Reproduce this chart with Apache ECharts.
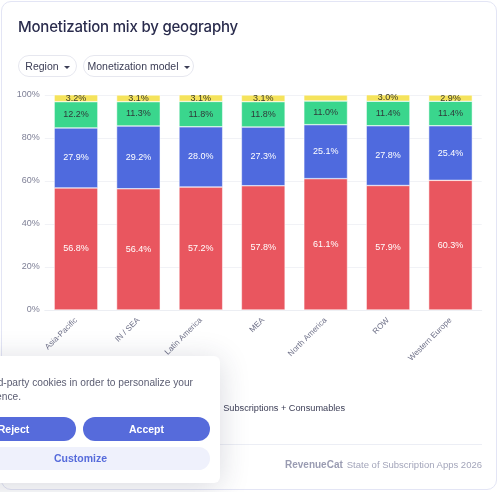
<!DOCTYPE html>
<html><head><meta charset="utf-8">
<script src="https://cdn.jsdelivr.net/npm/echarts@6/dist/echarts.min.js"></script>
<style>
html,body{margin:0;padding:0;background:#fff;width:500px;height:492px;overflow:hidden;font-family:"Liberation Sans",Arial,sans-serif;}
#card{position:absolute;left:1px;top:1px;width:494px;height:487px;border:1px solid #e3e5f5;border-radius:10px;background:#fff;}
#chart{position:absolute;left:0;top:0;width:500px;height:492px;}
#title{position:absolute;left:18px;top:17px;font-family:Inter,sans-serif;font-size:15px;font-weight:500;color:#2a2c4d;letter-spacing:-0.2px;white-space:nowrap;}
.pill{position:absolute;top:55px;height:20px;border:1px solid #e6e7ef;border-radius:11px;font-size:10.5px;color:#3b3d55;line-height:20px;box-sizing:content-box;text-align:center;}
.pill:after{content:"";display:inline-block;margin-left:5px;vertical-align:middle;border-left:3px solid transparent;border-right:3px solid transparent;border-top:3px solid #3b3d55;}
#sep{position:absolute;left:18px;top:444px;width:464px;height:1px;background:#eceef5;}
#foot{position:absolute;right:18px;top:459px;font-size:9.5px;color:#a3a5ba;white-space:nowrap;}
#foot b{font-weight:700;color:#9a9cb2;margin-right:4px;font-size:10px;}
#banner{position:absolute;left:-59px;top:356px;width:279px;height:127px;background:#fff;border-radius:6px;box-shadow:0 4px 30px rgba(40,44,80,0.18);z-index:10;}
.bl{position:absolute;white-space:nowrap;font-size:10.2px;color:#5b5d72;}
.btn{position:absolute;height:24px;border-radius:12px;font-size:10.5px;font-weight:700;text-align:center;line-height:24px;}
</style></head><body>
<div id="card"></div>
<div id="chart"></div>
<div id="title">Monetization mix by geography</div>
<div class="pill" style="left:18px;width:57px;">Region</div>
<div class="pill" style="left:83px;width:109px;">Monetization model</div>
<div id="sep"></div>
<div id="foot"><b>RevenueCat</b>State of Subscription Apps 2026</div>
<div id="banner">
  <div class="bl" style="right:27px;top:21px;">We use first and third-party cookies in order to personalize your</div>
  <div class="bl" style="right:199px;top:35px;">experience.</div>
  <div class="btn" style="left:10px;width:125px;top:61px;background:#566bdb;color:#fff;">Reject</div>
  <div class="btn" style="left:142px;width:127px;top:61px;background:#566bdb;color:#fff;">Accept</div>
  <div class="btn" style="left:10px;width:259px;top:91px;height:23px;line-height:23px;background:#eff1fc;color:#566bdb;">Customize</div>
</div>
<script>
const categories = ["Asia-Pacific","IN / SEA","Latin America","MEA","North America","ROW","Western Europe"];
const seriesNames = ["Subscriptions only","Hybrid","Other","Subscriptions + Consumables"];
const redValues = [56.8,56.4,57.2,57.8,61.1,57.9,60.3];
const blueValues = [27.9,29.2,28.0,27.3,25.1,27.8,25.4];
const greenValues = [12.2,11.3,11.8,11.8,11.0,11.4,11.4];
const yellowValues = [3.2,3.1,3.1,3.1,2.8,3.0,2.9];
const yellowLabelShown = [true,true,true,true,false,true,true];
const yTicks = [0,20,40,60,80,100];

const colors = ["#e9565f","#4f6ade","#f5e35b","#3ad68d"];
const FONT = '"Liberation Sans",Arial,sans-serif';
function mk(name, values, color, labelColor, shown){
  return {
    name, type:'bar', stack:'total', barWidth:'70%',
    itemStyle:{color, borderColor:'#ffffff', borderWidth:0.5},
    label:{show:true, position:'inside', color:labelColor, fontSize:9, fontWeight:500,
      fontFamily:FONT, formatter:p=>p.value.toFixed(1)+'%'},
    data: values.map((v,i)=> shown && !shown[i] ? {value:v,label:{show:false}} : v)
  };
}
const chart = echarts.init(document.getElementById('chart'), null, {renderer:'canvas'});
chart.setOption({
  animation:false,
  grid:{left:44.8, right:18.3, top:95, bottom:182},
  legend:{
    data:seriesNames.slice(), right:150, top:399, icon:'circle', itemWidth:4, itemHeight:4, itemGap:14,
    textStyle:{fontSize:9.2, color:'#3b3d55', fontFamily:FONT, padding:[0,0,0,1]}
  },
  xAxis:{type:'category', data:categories,
    axisLine:{lineStyle:{color:'#eceef3'}}, axisTick:{show:false},
    axisLabel:{rotate:45, fontSize:8, color:'#6e7088', margin:9, interval:0, fontFamily:FONT}},
  yAxis:{type:'value', min:yTicks[0], max:yTicks[yTicks.length-1], interval:20,
    axisLabel:{formatter:'{value}%', fontSize:9, color:'#7d7f95', margin:5, fontFamily:FONT},
    splitLine:{lineStyle:{color:'#f1f2f6'}}, axisLine:{show:false}},
  series:[
    mk(seriesNames[0], redValues, colors[0], '#ffffff'),
    mk(seriesNames[1], blueValues, colors[1], '#ffffff'),
    mk(seriesNames[3], greenValues, colors[3], '#2f3a3a'),
    mk(seriesNames[2], yellowValues, colors[2], '#3a3a2a', yellowLabelShown)
  ]
});
</script>
</body></html>
